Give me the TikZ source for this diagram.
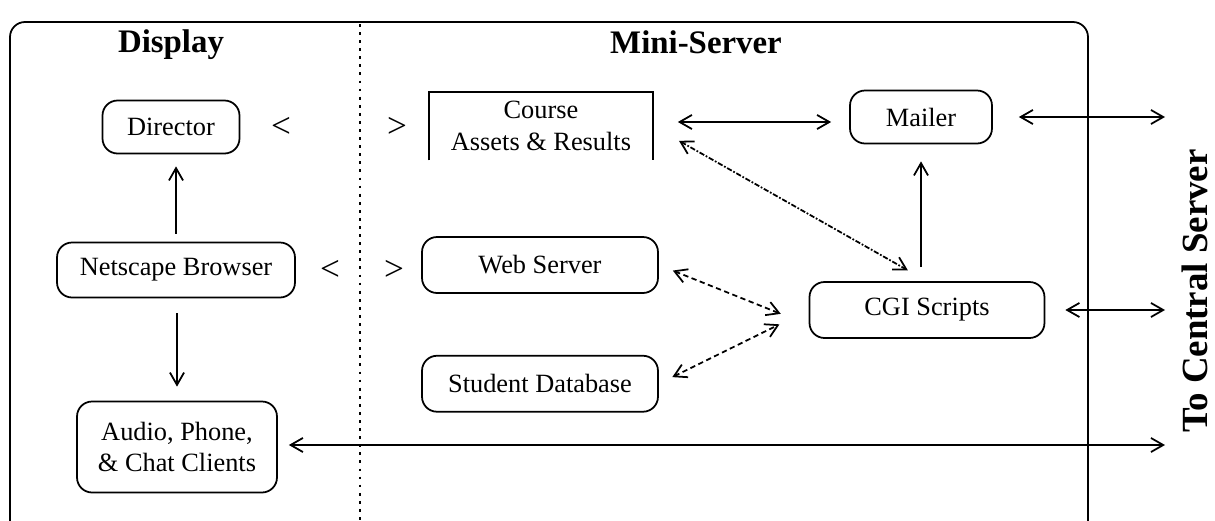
\documentclass[tikz,border=0pt]{standalone}
\usepackage{fontspec}
\setmainfont{Liberation Serif}
\usetikzlibrary{arrows.meta,positioning}

\begin{document}
\begin{tikzpicture}[x=0.02cm,y=-0.02cm,line width=1pt,
		>={Straight Barb[length=7pt,width=8pt]},
		box/.style={draw,rounded corners=0.3cm,minimum height=1.1cm,align=center,font=\fontsize{15}{18}\selectfont},
		txt/.style={font=\fontsize{15}{18}\selectfont},
		sign/.style={font=\fontsize{20}{22}\selectfont},
		head/.style={font=\fontsize{18.7}{22}\selectfont\bfseries},
		link/.style={<->,densely dashed}]
		\useasboundingbox (0,0) rectangle (1215,521);
		%
		\draw[rounded corners=0.3cm] (10,521) -- (10,22) -- (1088,22) -- (1088,521);
		\draw[dash pattern=on 1.6pt off 3pt] (360,24) -- (360,521);
		\node[head] (disp) at (171,45) {Display};
		\node[head] (mini) at (696,42) {Mini-Server};
		\node[head,rotate=90,font=\fontsize{21}{24}\selectfont\bfseries] (central) at (1195,291) {To Central Server};
		%
		\node[box,minimum width=2.74cm,minimum height=1.06cm] (dir) at (171,127) {Director};
		\node[box,minimum width=4.76cm] (nsb) at (176,270) {Netscape Browser};
		\node[box,minimum width=4cm,minimum height=1.82cm] (audio) at (177,447) {Audio, Phone,\\ \& Chat Clients};
		\node[sign] (lt1) at (281,127) {<};
		\node[sign] (gt1) at (397,127) {>};
		\node[sign] (lt2) at (330,270) {<};
		\node[sign] (gt2) at (394,270) {>};
		\node[align=center,minimum width=4.44cm,minimum height=1.34cm,txt] (course) at (541,126) {Course\\Assets \& Results};
		\draw (course.south west) -- (course.north west) -- (course.north east) -- (course.south east);
		\node[box,minimum width=4.72cm,minimum height=1.12cm] (web) at (540,265) {Web Server};
		\node[box,minimum width=4.72cm,minimum height=1.12cm,below=1.22cm of web] (db) {Student Database};
		\node[box,minimum width=2.84cm,minimum height=1.06cm] (mail) at (921,117) {Mailer};
		\node[box,minimum width=4.7cm,minimum height=1.12cm] (cgi) at (927,310) {CGI Scripts};
		\coordinate (out1) at (1165,117);
		\coordinate (out2) at (1165,310);
		\coordinate (out3) at (1165,445);
		%
		\draw[->,shorten <=0.16cm,shorten >=0.24cm] (nsb.north) -- (nsb.north |- dir.south);
		\draw[->,shorten <=0.3cm,shorten >=0.28cm] (nsb.south -| audio.north) -- (audio.north);
		\draw[<->,shorten <=0.5cm,shorten >=0.36cm] ([yshift=0.08cm]course.east) -- ([yshift=0.08cm]course.east -| mail.west);
		\draw[<->,densely dashdotted,shorten <=0.6cm,shorten >=0.44cm] (course.east) -- (cgi.north);
		\draw[->,shorten <=0.28cm,shorten >=0.34cm] (mail.south |- cgi.north) -- (mail.south);
		\draw[link,shorten <=0.3cm,shorten >=0.6cm] (web.east) -- ([yshift=-0.3cm]cgi.west);
		\draw[link,shorten <=0.3cm,shorten >=0.65cm] (db.east) -- (cgi.west);
		\draw[<->,shorten <=0.52cm] (mail.east) -- (out1);
		\draw[<->,shorten <=0.4cm] (cgi.east) -- (out2);
		\draw[<->,shorten <=0.22cm] (audio.east |- out3) -- (out3);
\end{tikzpicture}
\end{document}
